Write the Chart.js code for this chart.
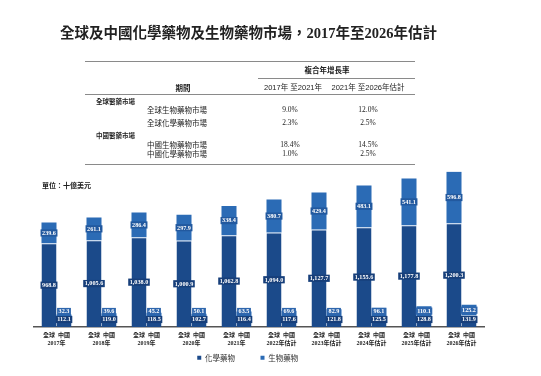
<!DOCTYPE html>
<html>
<head>
<meta charset="utf-8">
<script src="https://cdn.jsdelivr.net/npm/chart.js@4/dist/chart.umd.min.js"></script>
<style>
  body { margin: 0; background: #fff; width: 541px; height: 376px; position: relative; overflow: hidden; }
  #chart { position: absolute; left: 0; top: 0; }
  .t { position: absolute; white-space: nowrap; line-height: 1; color: #222; font-family: 'Noto Sans CJK TC', sans-serif; }
  .rule { position: absolute; height: 1px; background: #8a8a8a; }
</style>
</head>
<body>
<canvas id="chart" width="541" height="376"></canvas>
<script>
// Textos e dados
const title = "全球及中國化學藥物及生物藥物市場，2017年至2026年估計"
const unitLabel = "單位：十億美元"
const cagrHeader = "複合年增長率"
const periodHeader = "期間"
const cagrPeriods = ["2017年 至2021年", "2021年 至2026年估計"]
const marketGroups = ["全球醫藥市場", "中國醫藥市場"]
const marketRows = ["全球生物藥物市場", "全球化學藥物市場", "中國生物藥物市場", "中國化學藥物市場"]
const cagrFirst = ["9.0%", "2.3%", "18.4%", "1.0%"]
const cagrSecond = ["12.0%", "2.5%", "14.5%", "2.5%"]

const years = ["2017年", "2018年", "2019年", "2020年", "2021年", "2022年估計", "2023年估計", "2024年估計", "2025年估計", "2026年估計"]
const barNames = "全球  中國"
const globalChem = [968.8, 1005.6, 1038.0, 1000.9, 1062.8, 1094.0, 1127.7, 1155.6, 1177.8, 1200.3]
const globalBio = [239.6, 261.1, 286.4, 297.9, 338.4, 380.7, 429.4, 483.1, 541.1, 596.8]
const chinaChem = [112.1, 119.0, 118.5, 102.7, 116.4, 117.6, 121.8, 125.5, 128.8, 131.9]
const chinaBio = [32.3, 39.6, 45.2, 50.1, 63.5, 69.6, 82.9, 96.1, 110.1, 125.2]

const chemColor = "#1b4a8a"
const bioColor = "#2b6bb5"
const labelBox = ["#173f7a", "#22599f", "#173f7a", "#2e66ad"]

// texto em HTML
const put = (text, x, y, font, align) => {
  const el = document.createElement("div")
  el.className = "t"
  el.textContent = text
  el.style.font = font
  el.style.lineHeight = "1"
  el.style.left = x + "px"
  el.style.top = y + "px"
  el.style.transform = align === "center" ? "translate(-50%, -50%)" : "translateY(-50%)"
  document.body.appendChild(el)
}
const rule = (x1, x2, y) => {
  const el = document.createElement("div")
  el.className = "rule"
  el.style.left = x1 + "px"
  el.style.width = (x2 - x1) + "px"
  el.style.top = y + "px"
  document.body.appendChild(el)
}

const cjk = "'Noto Sans CJK TC', sans-serif"
const serif = "'Liberation Serif', 'Noto Sans CJK TC', serif"
const sans = "'Liberation Sans', 'Noto Sans CJK TC', sans-serif"

put(title, 60, 33, `bold 14.5px ${serif}`, "left")

rule(85, 415, 61)
put(cagrHeader, 327, 70, `bold 7.5px ${cjk}`, "center")
rule(258, 415, 78)
put(periodHeader, 183, 88, `bold 7.5px ${cjk}`, "center")
put(cagrPeriods[0], 293, 88, `7.5px ${sans}`, "center")
put(cagrPeriods[1], 368, 88, `7.5px ${sans}`, "center")
rule(85, 415, 94)

const groupY = [100.7, 135]
const rowY = [110, 123.3, 144.6, 153.8]
marketGroups.forEach((g, i) => put(g, 96, groupY[i], `bold 6.5px ${cjk}`, "left"))
marketRows.forEach((r, i) => {
  put(r, 147, rowY[i], `7.5px ${cjk}`, "left")
  put(cagrFirst[i], 290, rowY[i], `7.5px ${serif}`, "center")
  put(cagrSecond[i], 368, rowY[i], `7.5px ${serif}`, "center")
})
rule(85, 415, 164)

put(unitLabel, 42, 185, `bold 7px ${cjk}`, "left")

// rótulos de valor nas barras
const fmt = (v) => v.toLocaleString("en-US", { minimumFractionDigits: 1, maximumFractionDigits: 1 })
const valueLabels = {
  id: "valueLabels",
  afterDatasetsDraw(chart) {
    const ctx = chart.ctx
    ctx.save()
    ctx.font = "bold 6.2px 'Liberation Serif'"
    ctx.textAlign = "center"
    ctx.textBaseline = "middle"
    const chemY = []
    chart.data.datasets.forEach((ds, d) => {
      const meta = chart.getDatasetMeta(d)
      meta.data.forEach((bar, i) => {
        const text = fmt(ds.data[i])
        let y = (bar.y + bar.base) / 2
        if (ds.stack === "china") {
          if (d === 2) {
            y = Math.min(y, bar.base - 7.5)
            chemY[i] = y
          } else {
            y = Math.min(y, chemY[i] - 8)
          }
        }
        const w = ctx.measureText(text).width + 3
        ctx.fillStyle = labelBox[d]
        ctx.fillRect(bar.x - w / 2, y - 3.6, w, 7.2)
        ctx.fillStyle = "#ffffff"
        ctx.fillText(text, bar.x, y + 0.3)
      })
    })
    ctx.restore()
  },
}

const sep = { top: 1, right: 0, bottom: 0, left: 0 }

const ctx = document.getElementById("chart").getContext("2d")
window.myChart = new Chart(ctx, {
  type: "bar",
  data: {
    labels: years.map((y) => [barNames, y]),
    datasets: [
      { label: "化學藥物", data: globalChem, stack: "global", backgroundColor: chemColor, borderColor: "#c8daf0", borderWidth: sep },
      { label: "生物藥物", data: globalBio, stack: "global", backgroundColor: bioColor, borderWidth: 0 },
      { label: "中國化學藥物", data: chinaChem, stack: "china", backgroundColor: chemColor, borderColor: "#c8daf0", borderWidth: sep },
      { label: "中國生物藥物", data: chinaBio, stack: "china", backgroundColor: bioColor, borderWidth: 0 },
    ],
  },
  options: {
    responsive: false,
    animation: false,
    layout: { padding: { left: 34, right: 57, top: 171.5, bottom: 4.5 } },
    datasets: { bar: { categoryPercentage: 0.667, barPercentage: 1 } },
    scales: {
      x: {
        stacked: true,
        grid: { display: false, drawTicks: false },
        border: { display: true, color: "#555555", width: 1.5 },
        ticks: {
          padding: 4,
          color: "#222222",
          maxRotation: 0,
          autoSkip: false,
          font: { family: serif, size: 6, weight: "bold", lineHeight: 1.333 },
        },
      },
      y: { stacked: true, display: false, min: 0, max: 1800 },
    },
    plugins: {
      legend: {
        position: "bottom",
        labels: {
          padding: 3,
          usePointStyle: true,
          pointStyle: "rect",
          boxWidth: 4,
          boxHeight: 4,
          color: "#333333",
          font: { family: cjk, size: 7.5 },
          filter: (item) => item.datasetIndex < 2,
          generateLabels: (chart) =>
            Chart.defaults.plugins.legend.labels.generateLabels(chart).map((item) => {
              item.text = item.text + "\u3000\u3000\u3000"
              item.fillStyle = chart.data.datasets[item.datasetIndex].backgroundColor
              item.strokeStyle = item.fillStyle
              item.lineWidth = 0
              return item
            }),
        },
      },
      tooltip: { enabled: false },
    },
  },
  plugins: [valueLabels],
})
</script>
</body>
</html>
